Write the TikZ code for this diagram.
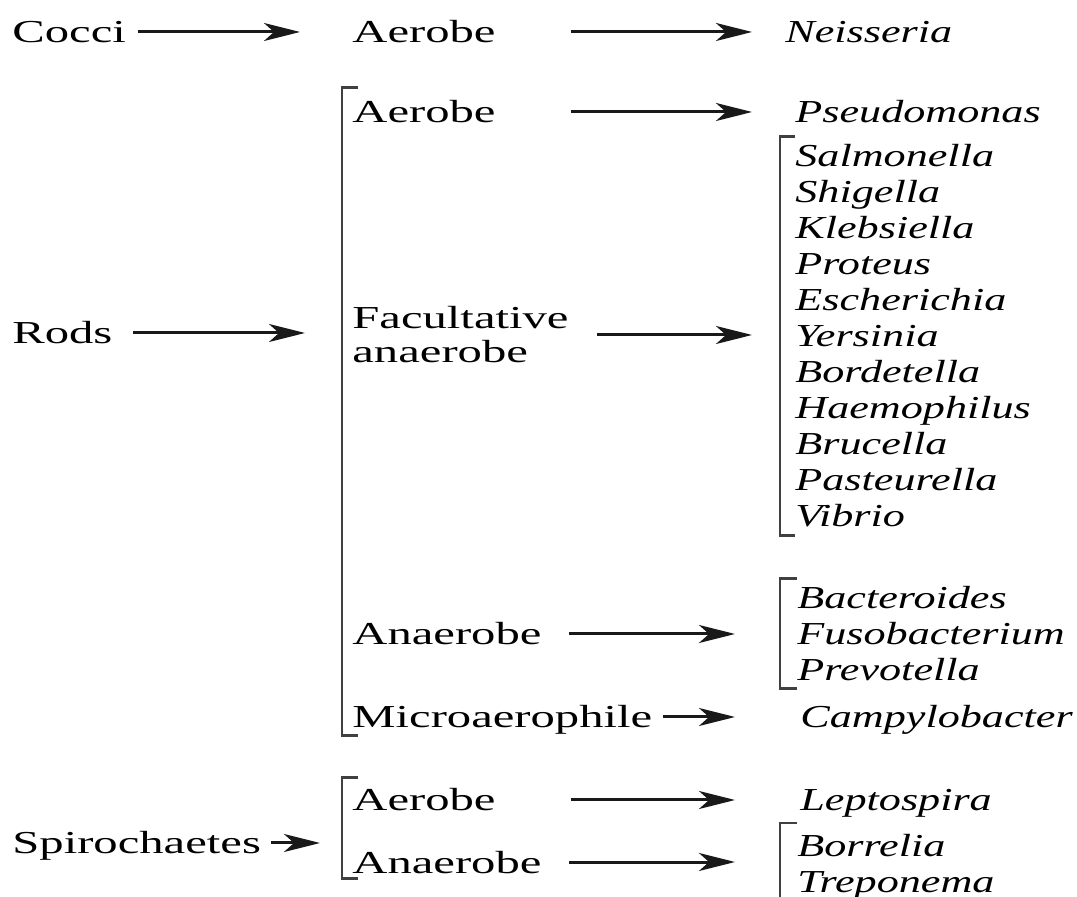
\documentclass[tikz,border=0pt]{standalone}
\usepackage{fontspec}
\setmainfont{Liberation Serif}[FakeStretch=1.52]
\newfontfamily\genfont{Liberation Serif}[FakeStretch=1.38]
\usetikzlibrary{arrows.meta, positioning, calc}

\tikzset{
  lbl/.style={anchor=west, inner sep=0pt, font=\fontsize{16}{18}\selectfont, text height=11pt, text depth=0pt},
  lblml/.style={anchor=west, inner sep=0pt, align=left, font=\fontsize{16}{17}\selectfont},
  gen/.style={lbl, font=\fontsize{16}{18}\selectfont\genfont\itshape},
  genlist/.style={anchor=west, inner sep=0pt, align=left, font=\fontsize{16}{18}\selectfont\genfont\itshape},
  arr/.style={-{Stealth[length=18pt,width=9pt,inset=5pt]}, line width=1.5pt, draw=black!90},
  brk/.style={line width=1.4pt, draw=black!75},
}

\begin{document}
\begin{tikzpicture}[x=0.5pt, y=-0.5pt]
    \useasboundingbox (0,0) rectangle (1077,897);

    % Cocci
    \node[lbl] (cocci) at (12,32) {Cocci};
    \node[lbl] (cocciAer) at (352,32) {Aerobe};
    \node[gen] (neis) at (785,32) {Neisseria};

    % Rods
    \node[lbl] (rods) at (12,333) {Rods};
    \node[lbl] (rodsAer) at (352,112) {Aerobe};
    \node[gen] (pseudo) at (795,112) {Pseudomonas};
    \node[lblml] (fac) at (352,335) {Facultative\\anaerobe};
    \node[genlist] (facGen) at (795,336) {Salmonella\\Shigella\\Klebsiella\\Proteus\\Escherichia\\Yersinia\\Bordetella\\Haemophilus\\Brucella\\Pasteurella\\Vibrio};
    \node[lbl] (rodsAna) at (352,634) {Anaerobe};
    \node[genlist] (anaGen) at (797,634) {Bacteroides\\Fusobacterium\\Prevotella};
    \node[lbl] (micro) at (352,717) {Microaerophile};
    \node[gen] (campy) at (800,717) {Campylobacter};

    % Spirochaetes
    \node[lbl] (spiro) at (12,843) {Spirochaetes};
    \node[lbl] (spAer) at (352,800) {Aerobe};
    \node[gen] (lepto) at (800,800) {Leptospira};
    \node[lbl] (spAna) at (352,862) {Anaerobe};
    \node[genlist] (spGen) at (797,867) {Borrelia\\Treponema};
    \coordinate (spBrk) at ($(spAer.west)+(-5pt,0)$);

    % Brackets
    \draw[brk] ($(rodsAer.north west)+(3pt,6.5pt)$) -- ++(-8pt,0) |- ($(micro.south west)+(3pt,-3.5pt)$);
    \draw[brk] ($(spAer.north west)+(3pt,5.5pt)$) -- ++(-8pt,0) |- ($(spAna.south west)+(3pt,-2.5pt)$);
    \draw[brk] ($(facGen.north west)+(0,4pt)$) -- ++(-7.5pt,0) |- ($(facGen.south west)+(0,-4pt)$);
    \draw[brk] ($(anaGen.north west)+(0,4pt)$) -- ++(-8.5pt,0) |- ($(anaGen.south west)+(0,-3.5pt)$);
    \draw[brk] ($(spGen.north west)+(0,5.5pt)$) -- ++(-8.5pt,0) |- ($(spGen.south west)+(0,-4pt)$);

    % Arrows
    \draw[arr, shorten <=6pt, shorten >=26pt] (cocci) -- (cocci -| cocciAer.west);
    \draw[arr, shorten <=37.5pt, shorten >=16.5pt] (cocciAer) -- (cocciAer -| neis.west);
    \draw[arr, shorten <=10pt, shorten >=23.5pt] (rods) -- (rods -| fac.west);
    \draw[arr, shorten <=37.5pt, shorten >=21.5pt] (rodsAer) -- (rodsAer -| pseudo.west);
    \draw[arr, shorten <=14pt, shorten >=21.5pt] (fac) -- (fac -| facGen.west);
    \draw[arr, shorten <=13.5pt, shorten >=31pt] (rodsAna) -- (rodsAna -| anaGen.west);
    \draw[arr, shorten <=5pt, shorten >=32.5pt] (micro) -- (micro -| campy.west);
    \draw[arr, shorten <=5pt, shorten >=11pt] (spiro) -- (spiro -| spBrk);
    \draw[arr, shorten <=37.5pt, shorten >=32.5pt] (spAer) -- (spAer -| lepto.west);
    \draw[arr, shorten <=13.5pt, shorten >=31pt] (spAna) -- (spAna -| spGen.west);
\end{tikzpicture}
\end{document}
